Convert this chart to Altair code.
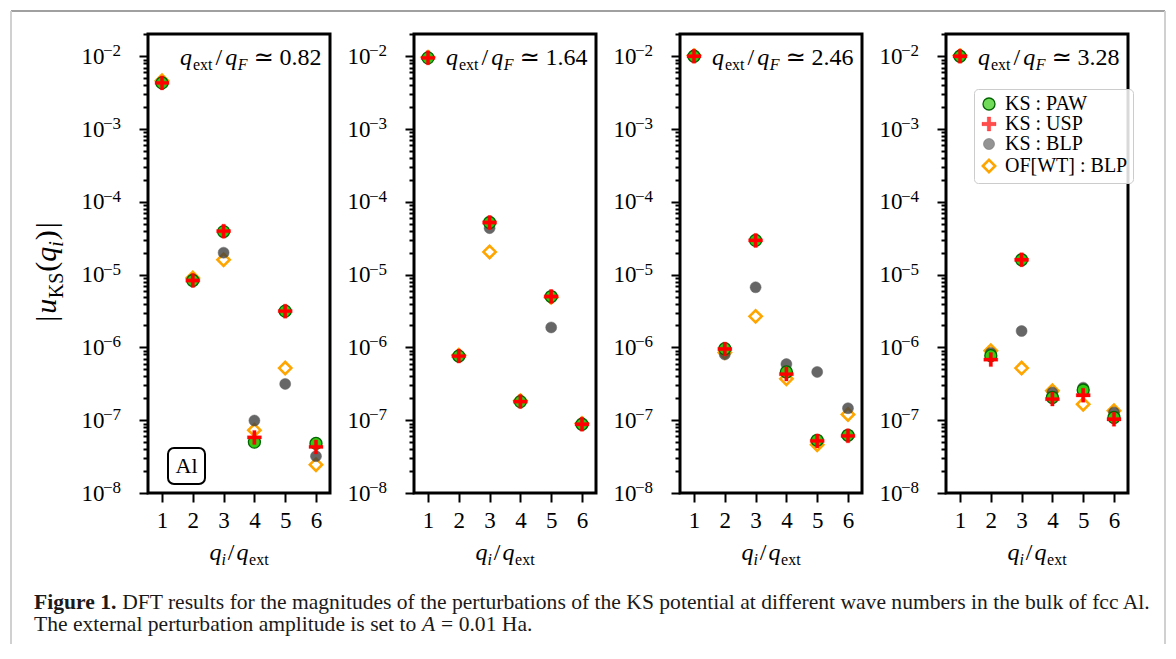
import altair as alt
import pandas as pd

# ---------------- data ----------------
q_ratios = ["0.82", "1.64", "2.46", "3.28"]
qi = [1, 2, 3, 4, 5, 6]
methods = ["KS : PAW", "KS : USP", "KS : BLP", "OF[WT] : BLP"]

paw = [
    [4.3e-3, 8.3e-6, 3.9e-5, 5.0e-8, 3.15e-6, 4.8e-8],
    [9.5e-3, 7.6e-7, 5.2e-5, 1.8e-7, 5.0e-6, 8.8e-8],
    [1.0e-2, 9.6e-7, 2.95e-5, 4.6e-7, 5.3e-8, 6.2e-8],
    [1.0e-2, 7.7e-7, 1.6e-5, 2.05e-7, 2.6e-7, 1.09e-7],
]
usp = [
    [4.3e-3, 8.3e-6, 3.95e-5, 5.8e-8, 3.15e-6, 4.3e-8],
    [9.5e-3, 7.6e-7, 5.2e-5, 1.8e-7, 5.0e-6, 8.8e-8],
    [1.0e-2, 9.5e-7, 2.95e-5, 4.3e-7, 5.2e-8, 6.1e-8],
    [1.0e-2, 6.8e-7, 1.6e-5, 1.95e-7, 2.2e-7, 1.03e-7],
]
blp = [
    [4.4e-3, 8.5e-6, 2.0e-5, 9.9e-8, 3.15e-7, 3.2e-8],
    [9.5e-3, 7.5e-7, 4.35e-5, 1.8e-7, 1.88e-6, 8.9e-8],
    [1.0e-2, 8.0e-7, 6.7e-6, 5.9e-7, 4.6e-7, 1.46e-7],
    [1.0e-2, 8.4e-7, 1.68e-6, 2.4e-7, 2.8e-7, 1.28e-7],
]
ofwt = [
    [4.6e-3, 9.0e-6, 1.6e-5, 7.3e-8, 5.2e-7, 2.45e-8],
    [9.7e-3, 7.8e-7, 2.05e-5, 1.85e-7, 4.9e-6, 9.0e-8],
    [1.02e-2, 8.5e-7, 2.67e-6, 3.7e-7, 4.6e-8, 1.2e-7],
    [1.02e-2, 9.0e-7, 5.2e-7, 2.54e-7, 1.66e-7, 1.35e-7],
]
draw_order = [2, 3, 1, 0]  # OF at bottom, then BLP, PAW, USP on top

decades = [-8, -7, -6, -5, -4, -3, -2]
minor_mult = [1, 2, 3, 4, 5, 6, 7, 8, 9]
x_ticks = [1, 2, 3, 4, 5, 6]

caption_bold = "Figure 1."
caption_l1 = ("DFT results for the magnitudes of the perturbations of the KS potential "
              "at different wave numbers in the bulk of fcc Al.")
caption_l2a = "The external perturbation amplitude is set to "
caption_l2b = "A"
caption_l2c = "= 0.01 Ha."

# ---------------- tables ----------------
rows = []
for k in range(4):
    for m, arr, z in zip(methods, [paw, usp, blp, ofwt], draw_order):
        for xv, yv in zip(qi, arr[k]):
            rows.append(dict(panel=k, method=m, x=xv, y=yv, z=z))
df = pd.DataFrame(rows).sort_values(["panel", "z"]).reset_index(drop=True)

exp_df = pd.DataFrame({"v": [10.0 ** e for e in decades],
                       "lab": ["\u2212" + str(-e) for e in decades]})
y_tick_values = [m * 10.0 ** e for e in decades for m in minor_mult] + [2e-2]

# ---------------- text helpers ----------------
FONT = "Liberation Serif"
REG = {' ': 250, '\u00a0': 250, '!': 333, '.': 250, ',': 250, ':': 278, ';': 278, '(': 333, ')': 333,
       '[': 333, ']': 333, '/': 278, '|': 200, '=': 564, '\u2212': 564, '-': 333,
       'A': 722, 'B': 667, 'C': 667, 'D': 722, 'E': 611, 'F': 556, 'G': 722, 'H': 722,
       'I': 333, 'J': 389, 'K': 722, 'L': 611, 'M': 889, 'N': 722, 'O': 722, 'P': 556,
       'Q': 722, 'R': 667, 'S': 556, 'T': 611, 'U': 722, 'V': 722, 'W': 944, 'X': 722,
       'Y': 722, 'Z': 611,
       'a': 444, 'b': 500, 'c': 444, 'd': 500, 'e': 444, 'f': 333, 'g': 500, 'h': 500,
       'i': 278, 'j': 278, 'k': 500, 'l': 278, 'm': 778, 'n': 500, 'o': 500, 'p': 500,
       'q': 500, 'r': 333, 's': 389, 't': 278, 'u': 500, 'v': 500, 'w': 722, 'x': 500,
       'y': 500, 'z': 444}
IT = {'A': 611, 'F': 611, 'q': 500, 'u': 500, 'i': 278, '/': 278}
BOLD = {'F': 611, 'i': 278, 'g': 500, 'u': 556, 'r': 444, 'e': 444, '1': 500, '.': 250, ' ': 250}
SYM = {'\u2243': 838}
TABLES = {"reg": REG, "it": IT, "bold": BOLD, "sym": SYM}
ONE = alt.Data(values=[{"k": 0}])


def tw(s, size, style="reg"):
    tab = TABLES[style]
    return sum(tab.get(c, 500) for c in s) * size / 1000.0


def txt(s, x, y, size, style="reg", align="left", baseline="alphabetic", angle=0, color="black"):
    kw = dict(align=align, baseline=baseline, fontSize=size, font=FONT, color=color)
    if style == "it":
        kw["fontStyle"] = "italic"
    if style == "bold":
        kw["fontWeight"] = "bold"
    if style == "sym":
        kw["font"] = "DejaVu Sans"
    if angle:
        kw["angle"] = angle
    return alt.Chart(ONE).mark_text(**kw).encode(
        x=alt.value(x), y=alt.value(y), text=alt.value(s))


def rich_width(pieces):
    return sum(g + tw(s, sz, st) for s, sz, st, sh, g in pieces)


def rich(pieces, x0, y0, rotate=False, color="black"):
    out = []
    pos = 0.0
    for s, size, style, shift, gap in pieces:
        pos += gap
        if rotate:
            out.append(txt(s, x0 + shift, y0 - pos, size, style, angle=270, color=color))
        else:
            out.append(txt(s, x0 + pos, y0 + shift, size, style, color=color))
        pos += tw(s, size, style)
    return out


# ---------------- layout constants ----------------
W, H = 182, 459
CROSS = "M-1,-0.24H-0.24V-1H0.24V-0.24H1V0.24H0.24V1H-0.24V0.24H-1Z"

is_decade = "abs(log(datum.value)/LN10 - round(log(datum.value)/LN10)) < 0.001"

yscale = alt.Scale(type="log", domain=[1e-8, 0.0202], nice=False)
xscale = alt.Scale(domain=[0.545, 6.455], nice=False, zero=False)

yaxis = alt.Axis(values=y_tick_values, labelExpr=f"{is_decade} ? '10' : ''",
                 ticks=True, tickColor="black", tickWidth=2, tickOpacity=1,
                 tickSize={"condition": {"test": is_decade, "value": 9}, "value": 5},
                 labelPadding=35, labelOverlap=False, title=None, grid=False,
                 labelFontSize=23, domain=False)
xaxis = alt.Axis(values=x_ticks, ticks=True, tickColor="black", tickWidth=2, tickOpacity=1,
                 tickSize=9, labelPadding=7, title=None, grid=False,
                 labelFontSize=23, labelFlush=False, domain=False)

legend = alt.Legend(title=None, orient="none", legendX=28, legendY=55,
                    labelFont=FONT, labelFontSize=20, labelColor="black",
                    rowPadding=0, labelOffset=6, padding=5, cornerRadius=4,
                    fillColor="rgba(255,255,255,0.85)", strokeColor="#cccccc")


def oscale(rng):
    return alt.Scale(type="ordinal", domain=methods, range=rng)


def panel(k):
    d = df[df.panel == k]
    leg = legend if k == 3 else None
    pts = alt.Chart(d).mark_point().encode(
        x=alt.X("x:Q", scale=xscale, axis=xaxis),
        y=alt.Y("y:Q", scale=yscale, axis=yaxis),
        shape=alt.Shape("method:N", scale=alt.Scale(domain=methods, range=["circle", CROSS, "circle", "diamond"]), legend=leg),
        fill=alt.Fill("method:N", scale=alt.Scale(domain=methods, range=["#33cc11", "#ff0000", "#404040", "#ffffff"]), legend=leg),
        stroke=alt.Stroke("method:N", scale=alt.Scale(domain=methods, range=["#006400", "#ff0000", "#404040", "#ffa500"]), legend=leg),
        size=alt.Size("method:N", scale=oscale([144, 196, 121, 150]), legend=leg),
        strokeWidth=alt.StrokeWidth("method:N", scale=oscale([1.3, 0.3, 0.5, 2.6]), legend=leg),
        opacity=alt.Opacity("method:N", scale=oscale([1, 1, 0.8, 1]), legend=leg),
        order=alt.Order("z:Q"),
    )
    exps = alt.Chart(exp_df).mark_text(align="left", baseline="alphabetic", font=FONT,
                                       fontSize=17, color="black").encode(
        x=alt.value(-45), y=alt.Y("v:Q", scale=yscale, axis=yaxis), text="lab:N")

    ann = [("q", 24, "it", 0, 0), ("ext", 16, "reg", 5, 1), ("/", 24, "reg", 0, 3),
           ("q", 24, "it", 0, 3), ("F", 16, "it", 5, 0.5), ("\u2243", 24, "sym", 0, 6),
           (q_ratios[k], 24, "reg", 0, 6)]
    layers = [pts, exps] + rich(ann, 32, 31)

    xt = [("q", 24, "it", 0, 0), ("i", 16, "it", 5, 0), ("/", 24, "reg", 0, 2),
          ("q", 24, "it", 0, 2), ("ext", 16, "reg", 5, 0.5)]
    layers += rich(xt, W / 2 - rich_width(xt) / 2, 526)

    if k == 0:
        yt = [("|", 30, "reg", 0, 0), ("u", 30, "it", 0, 2), ("KS", 20, "reg", 7, 0.5),
              ("(", 30, "reg", 0, 1), ("q", 30, "it", 0, 0), ("i", 20, "it", 7, 0),
              (")", 30, "reg", 0, 1), ("|", 30, "reg", 0, 2)]
        layers += rich(yt, -92, 238 + rich_width(yt) / 2, rotate=True)

        box = alt.Chart(ONE).mark_rect(fill="white", stroke="black", strokeWidth=2,
                                       cornerRadius=6).encode(
            x=alt.value(20), x2=alt.value(57), y=alt.value(414), y2=alt.value(450))
        layers += [box, txt("Al", 38.5, 432, 22, align="center", baseline="middle")]

        # caption
        cap_size = 1030.0 / tw(caption_l1, 1.0)
        cx = -114
        layers.append(txt(caption_bold, cx, 575, cap_size, "bold", color="#1a1a1a"))
        layers.append(txt(caption_l1, cx + tw(caption_bold + " ", cap_size, "bold"), 575,
                          cap_size, color="#1a1a1a"))
        l2 = [(caption_l2a, cap_size, "reg", 0, 0), (caption_l2b, cap_size, "it", 0, 0),
              (caption_l2c, cap_size, "reg", 0, 6)]
        layers += rich(l2, cx, 597, color="#1a1a1a")

        # outer figure frame
        fl, fr, ft, fb = -137, 1017, -23, 610
        layers.append(alt.Chart(ONE).mark_rule(color="#a0a0a0", strokeWidth=2).encode(
            x=alt.value(fl), x2=alt.value(fr), y=alt.value(ft)))
        layers.append(alt.Chart(ONE).mark_rule(color="#d0d0d0", strokeWidth=2).encode(
            x=alt.value(fl), y=alt.value(ft), y2=alt.value(fb)))
        layers.append(alt.Chart(ONE).mark_rule(color="#d0d0d0", strokeWidth=2).encode(
            x=alt.value(fr), y=alt.value(ft), y2=alt.value(fb)))

    return alt.layer(*layers).properties(width=W, height=H)


chart = alt.hconcat(*[panel(k) for k in range(4)], spacing=84, bounds="flush", padding=0)
chart = chart.resolve_scale(shape="independent", fill="independent", stroke="independent",
                            size="independent", strokeWidth="independent", opacity="independent")
chart = chart.resolve_legend(shape="independent", fill="independent", stroke="independent",
                             size="independent", strokeWidth="independent", opacity="independent")
chart = chart.configure(background="white").configure_view(
    stroke="black", strokeWidth=3).configure_axis(
    domain=False, ticks=True, tickColor="black", tickWidth=2, labelFont=FONT, labelColor="black")

chart.save("out.html", embed_options={"renderer": "svg", "actions": False})
